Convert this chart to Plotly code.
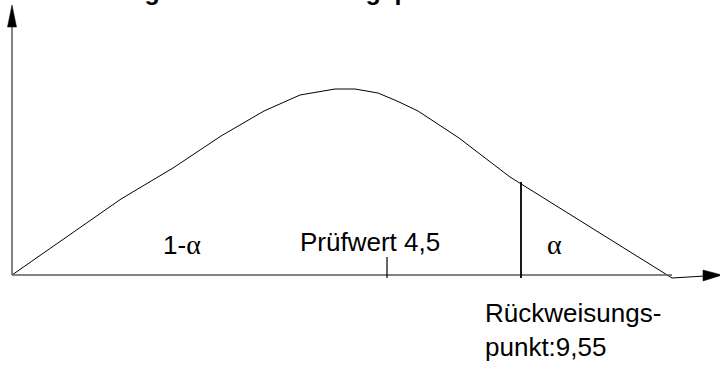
import numpy as np
import plotly.graph_objects as go

# curve of the test distribution (schematic, drawing units)
curve_x = [0, 109, 161, 209, 252, 288, 323, 343, 366, 385, 406, 447, 498, 533, 660]
curve_y = [0, 76, 107, 139, 164, 180, 186, 186, 182, 174, 164, 137, 98, 76, -3]

test_value_x = 375      # Prüfwert 4,5
critical_x = 509        # Rückweisungspunkt 9,55

title_text = "<b>Verteilung und Rückweisungspunkt</b>"
label_accept = '1-<span style="font-family:Liberation Serif;font-size:28px">α</span>'
label_alpha = '<span style="font-family:Liberation Serif;font-size:28px">α</span>'
label_test = "Prüfwert 4,5"
label_crit = "Rückweisungs-<br>punkt:9,55"

axis_col = "#5a5a5a"
font = dict(family="Liberation Sans, Arial, sans-serif", size=26, color="black")

fig = go.Figure()
fig.add_trace(go.Scatter(x=curve_x, y=curve_y, mode="lines",
                         line=dict(color="black", width=1), hoverinfo="skip"))

crit_top = float(np.interp(critical_x, curve_x, curve_y))

shapes = [
    # axes
    dict(type="line", x0=0, y0=0, x1=660, y1=0, line=dict(color=axis_col, width=1.5)),
    dict(type="line", x0=0, y0=0, x1=0, y1=250, line=dict(color=axis_col, width=1.5)),
    dict(type="line", x0=660, y0=-3, x1=693, y1=-1, line=dict(color="black", width=1)),
    dict(type="path", path="M -4.5 248 L 4.5 248 L 0 270 Z",
         fillcolor="black", line=dict(color="black", width=0.5)),
    dict(type="path", path="M 691 5 L 691 -6 L 710 0 Z",
         fillcolor="black", line=dict(color="black", width=0.5)),
    # markers on the axis
    dict(type="line", x0=test_value_x, y0=-3, x1=test_value_x, y1=18,
         line=dict(color="black", width=1.2)),
    dict(type="line", x0=critical_x, y0=-3, x1=critical_x, y1=crit_top + 2,
         line=dict(color="black", width=1.8)),
]

annotations = [
    # title sits above the visible area, only its descenders show
    dict(text=title_text, xref="x", yref="paper", x=25, y=1, xanchor="left",
         yanchor="bottom", yshift=-7, showarrow=False,
         font=dict(family="Liberation Sans, Arial, sans-serif", size=25, color="black")),
    dict(text=label_accept, x=170, y=31, xanchor="center", yanchor="middle",
         showarrow=False, font=font),
    dict(text=label_test, x=286, y=33, xanchor="left", yanchor="middle",
         showarrow=False, font=font),
    dict(text=label_alpha, x=542, y=31, xanchor="center", yanchor="middle",
         showarrow=False, font=font),
    dict(text=label_crit, x=471, y=-55, xanchor="left", yanchor="middle",
         align="left", showarrow=False, font=font),
]

fig.update_layout(
    width=720, height=365,
    margin=dict(l=0, r=0, t=0, b=0),
    paper_bgcolor="white", plot_bgcolor="white",
    showlegend=False,
    xaxis=dict(range=[-12, 708], visible=False, fixedrange=True),
    yaxis=dict(range=[-90, 275], visible=False, fixedrange=True),
    shapes=shapes, annotations=annotations,
)

# the page's default body margin would shift the figure by 8px
fig.write_html("out.html", config={"displayModeBar": False},
               post_script="document.body.style.margin='0px';")
